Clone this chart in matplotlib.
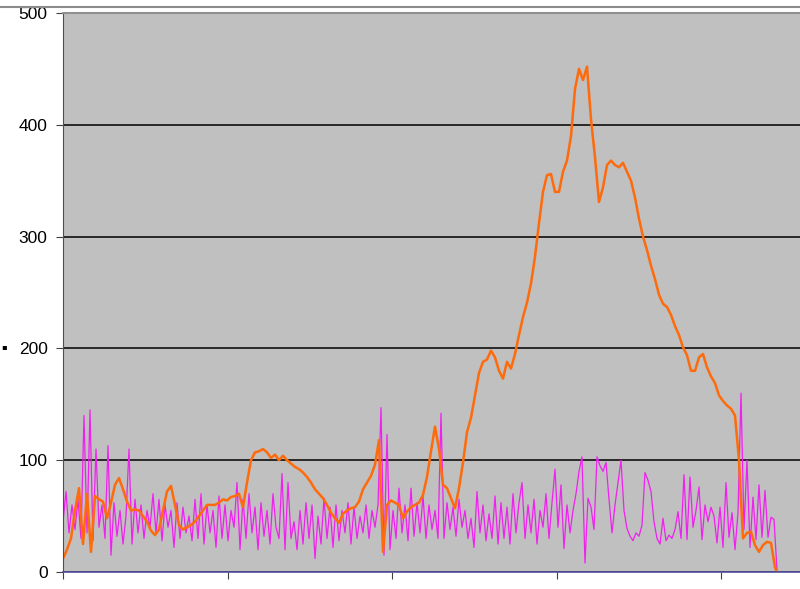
import numpy as np
import matplotlib
matplotlib.use("Agg")
import matplotlib.pyplot as plt
from matplotlib.ticker import MultipleLocator
from matplotlib.lines import Line2D

# orange series, one sample every 4 x-units
orange = [12, 20, 30, 55, 75, 25, 70, 18, 68, 65, 63, 48, 62, 78, 84, 74, 63, 55, 56, 55,
          50, 45, 37, 33, 38, 55, 72, 77, 60, 42, 38, 40, 42, 45, 50, 55, 60, 60, 60, 62,
          65, 64, 67, 68, 70, 58, 80, 100, 107, 108, 110, 107, 102, 105, 100, 104, 100, 97, 94, 92,
          89, 85, 80, 74, 70, 66, 60, 53, 48, 44, 52, 55, 57, 58, 63, 74, 80, 86, 96, 118,
          18, 60, 64, 62, 60, 48, 54, 58, 60, 62, 69, 85, 108, 130, 110, 78, 75, 66, 57, 75,
          98, 125, 138, 158, 178, 188, 190, 198, 192, 180, 173, 188, 182, 195, 212, 228, 241, 258, 282, 312,
          340, 355, 356, 340, 340, 358, 368, 390, 432, 450, 440, 452, 405, 371, 331, 344, 364, 368, 364, 362,
          366, 358, 350, 335, 316, 300, 288, 274, 262, 248, 240, 237, 230, 220, 212, 201, 194, 180, 180, 192,
          195, 183, 175, 169, 158, 153, 149, 146, 140, 100, 30, 35, 36, 24, 18, 24, 27, 26, 4, -4]

# magenta series, one sample every 3 x-units
magenta = [45, 72, 35, 60, 38, 65, 30, 140, 35, 145, 28, 110, 40, 60, 30, 113, 15, 62, 32, 55,
           25, 50, 110, 25, 65, 35, 60, 30, 55, 40, 70, 35, 65, 28, 60, 40, 55, 22, 62, 30,
           58, 35, 50, 28, 65, 30, 70, 25, 60, 35, 55, 22, 68, 30, 60, 28, 55, 40, 80, 20,
           65, 30, 70, 35, 58, 20, 62, 32, 55, 25, 70, 40, 30, 88, 20, 80, 30, 45, 20, 55,
           25, 62, 30, 60, 12, 50, 25, 66, 30, 58, 22, 60, 28, 55, 35, 62, 25, 58, 30, 50,
           35, 60, 30, 55, 40, 60, 147, 15, 123, 20, 55, 30, 75, 35, 60, 28, 75, 32, 62, 35,
           68, 30, 60, 38, 55, 30, 142, 30, 62, 38, 58, 32, 65, 40, 55, 30, 48, 22, 72, 35,
           60, 28, 52, 30, 68, 25, 62, 30, 58, 25, 70, 35, 62, 80, 30, 60, 35, 65, 25, 55,
           40, 70, 30, 62, 92, 40, 78, 21, 60, 35, 55, 70, 90, 103, 8, 66, 58, 38, 103, 95,
           90, 98, 65, 35, 60, 80, 100, 55, 39, 32, 28, 35, 32, 42, 89, 82, 72, 45, 30, 25,
           48, 28, 33, 30, 38, 54, 30, 87, 29, 85, 40, 55, 76, 29, 60, 45, 58, 50, 26, 58,
           22, 80, 31, 53, 20, 53, 160, 38, 100, 22, 67, 29, 78, 31, 73, 31, 49, 47, 2]

y_ticks = [0, 100, 200, 300, 400, 500]

x_orange = np.arange(len(orange)) * 4
x_magenta = np.arange(len(magenta)) * 3

plt.rcParams['font.family'] = ['Liberation Sans', 'DejaVu Sans']

fig = plt.figure(figsize=(8, 5.89), dpi=100)
ax = fig.add_axes([63 / 800, 17 / 589, 760 / 800, 559 / 589])
ax.set_facecolor('#C0C0C0')

ax.plot(x_magenta, magenta, color='#F020F0', lw=0.9, zorder=3)
ax.plot(x_orange, orange, color='#FF6A0A', lw=1.8, zorder=4)

ax.set_xlim(0, 760)
ax.set_ylim(0, 500)
ax.set_yticks(y_ticks)
ax.yaxis.grid(True, color='black', lw=1.1)
ax.set_axisbelow(True)
ax.xaxis.set_major_locator(MultipleLocator(164.5))
ax.set_xticklabels([])
ax.tick_params(axis='x', length=5, color='#404040', direction='out')
ax.tick_params(axis='y', length=5, color='#404040', labelsize=12.5, pad=6)

ax.spines['top'].set_color('#909090')
ax.spines['top'].set_linewidth(1.5)
ax.spines['right'].set_visible(False)
ax.spines['left'].set_color('#505050')
ax.spines['bottom'].set_color('#5050A0')
ax.spines['bottom'].set_linewidth(1.2)
for s in ax.spines.values():
    s.set_zorder(5)

# frame line of the chart area along the top
fig.add_artist(Line2D([0, 1], [1 - 6.5 / 589, 1 - 6.5 / 589], color='#8C8C8C', lw=1.5))
# cut-off axis title fragment at the far left
fig.text(0.002, 1 - 347 / 589, '▪', fontsize=6, va='center', ha='left', family='DejaVu Sans')

fig.savefig('out.png', dpi=100)
